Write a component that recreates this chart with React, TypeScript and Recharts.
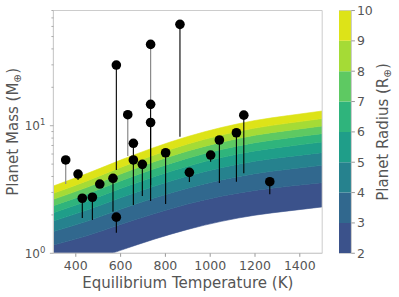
import React from 'react';
import {
  ComposedChart,
  Area,
  Scatter,
  ErrorBar,
  XAxis,
  YAxis,
  ReferenceArea,
  BarChart,
  Bar,
} from 'recharts';

const FONT = '"DejaVu Sans", sans-serif';
const TEXT = '#555555';
const SPINE = '#cccccc';
const TICK = '#999999';

// ---- Contour boundaries: planet mass (M_earth) at each radius level ----
const gridTemps = [300, 450, 600, 750, 900, 1050, 1200, 1350, 1500];
const radius2 = [0.71, 0.85, 1.055, 1.29, 1.54, 1.78, 1.99, 2.15, 2.31];
const radius3 = [1.16, 1.37, 1.68, 2.04, 2.43, 2.8, 3.11, 3.35, 3.58];
const radius4 = [1.48, 1.78, 2.21, 2.71, 3.24, 3.76, 4.21, 4.56, 4.89];
const radius5 = [1.79, 2.18, 2.72, 3.35, 4.03, 4.69, 5.27, 5.72, 6.15];
const radius6 = [2.08, 2.56, 3.22, 3.99, 4.82, 5.63, 6.35, 6.91, 7.45];
const radius7 = [2.36, 2.92, 3.69, 4.59, 5.57, 6.51, 7.36, 8.02, 8.67];
const radius8 = [2.65, 3.29, 4.18, 5.22, 6.34, 7.43, 8.42, 9.19, 9.95];
const radius9 = [2.95, 3.69, 4.71, 5.9, 7.19, 8.45, 9.58, 10.48, 11.37];
const radius10 = [3.37, 4.22, 5.38, 6.75, 8.23, 9.68, 10.99, 12.02, 13.04];

const radiusLevels = [2, 3, 4, 5, 6, 7, 8, 9, 10];
const bandColors = ['#3b528b', '#31688e', '#26828e', '#1f9e89', '#2fb47c', '#5ec962', '#a5db36', '#dde318'];

// ---- Planets ----
const planetTemps = [355, 410, 429, 474, 507, 566, 581, 581, 632, 657, 657, 697, 734, 734, 734, 801, 865, 907, 1002, 1041, 1117, 1150, 1266];
const planetMasses = [5.39, 4.18, 2.7, 2.75, 3.49, 3.87, 1.92, 29.9, 12.2, 7.28, 5.39, 4.98, 43.4, 14.7, 10.6, 6.14, 62.3, 4.31, 5.89, 7.73, 8.81, 12.1, 3.64];
const planetLowerMasses = [3.49, 3.75, 1.89, 1.82, 3.3, 2.12, 1.45, 4.5, 5.79, 4.92, 2.39, 2.81, 14.8, 3.43, 2.57, 2.43, 8.2, 3.62, 5.22, 3.56, 3.64, 4.24, 2.9];
const faintBar = [true, false, false, false, false, false, false, false, true, false, false, false, true, false, false, false, false, false, false, false, false, false, false];

const xTicks = [400, 600, 800, 1000, 1200, 1400];
const yTicks = [1, 2, 3, 4, 5, 6, 7, 8, 9, 10, 20, 30, 40, 50, 60, 70, 80];

const levelArrays = [radius2, radius3, radius4, radius5, radius6, radius7, radius8, radius9, radius10];

const contourData = gridTemps.map((t, i) => {
  const row: any = { t };
  for (let k = 0; k < levelArrays.length - 1; k++) {
    row['b' + k] = [levelArrays[k][i], levelArrays[k + 1][i]];
  }
  return row;
});

const planets = planetTemps.map((t, i) => ({
  t,
  m: planetMasses[i],
  err: [planetMasses[i] - planetLowerMasses[i], 0],
  faint: faintBar[i],
}));

const colorbarData = [
  (() => {
    const row: any = { name: 'cb', base: radiusLevels[0] };
    for (let k = 0; k < radiusLevels.length - 1; k++) row['s' + k] = radiusLevels[k + 1] - radiusLevels[k];
    return row;
  })(),
];

const Dot = (p: any) => <circle cx={p.cx} cy={p.cy} r={4.8} fill="#000" />;

const YTick = (p: any) => {
  const { x, y, payload } = p;
  const v = payload.value;
  const major = v === 1 || v === 10;
  return (
    <g>
      <line x1={x - (major ? 3.5 : 2)} x2={x} y1={y} y2={y} stroke={TICK} strokeWidth={0.8} />
      {major && (
        <text x={x - 8} y={y + 4.5} textAnchor="end" fontFamily={FONT} fill={TEXT}>
          <tspan fontSize={12}>10</tspan>
          <tspan fontSize={8.5} dy={-5}>{v === 1 ? '0' : '1'}</tspan>
        </text>
      )}
    </g>
  );
};

const YLabel = (p: any) => {
  const vb = p.viewBox || {};
  const x = vb.x + 18.5;
  const y = vb.y + vb.height / 2;
  return (
    <text x={x} y={y} transform={`rotate(-90 ${x} ${y})`} textAnchor="middle" fontFamily={FONT} fontSize={15} fill={TEXT}>
      Planet Mass (M<tspan fontSize={10.5} dy={3}>⊕</tspan>
      <tspan dy={-3}>)</tspan>
    </text>
  );
};

const CbLabel = (p: any) => {
  const vb = p.viewBox || {};
  const x = vb.x + 37;
  const y = vb.y + vb.height / 2;
  return (
    <text x={x} y={y} transform={`rotate(-90 ${x} ${y})`} textAnchor="middle" fontFamily={FONT} fontSize={15} fill={TEXT}>
      Planet Radius (R<tspan fontSize={10.5} dy={3}>⊕</tspan>
      <tspan dy={-3}>)</tspan>
    </text>
  );
};

export default function App() {
  return (
    <div style={{ position: 'absolute', left: 0, top: 0, width: 399, height: 297, background: '#fff' }}>
      <div style={{ position: 'absolute', left: 0, top: 0 }}>
        <ComposedChart width={399} height={297} data={contourData} margin={{ top: 10.5, right: 76.8, left: 0, bottom: 0 }}>
          <XAxis
            dataKey="t"
            type="number"
            domain={[300, 1500]}
            ticks={xTicks}
            allowDataOverflow
            height={43.7}
            stroke={SPINE}
            tickLine={{ stroke: TICK }}
            tickSize={3.5}
            tickMargin={4}
            tick={{ fill: TEXT, fontSize: 12.5, fontFamily: FONT }}
            label={{ value: 'Equilibrium Temperature (K)', position: 'insideBottom', offset: 9.5, fill: TEXT, fontSize: 15, fontFamily: FONT }}
          />
          <YAxis
            type="number"
            scale="log"
            domain={[1, 80]}
            ticks={yTicks}
            interval={0}
            allowDataOverflow
            width={53.4}
            stroke={SPINE}
            tickLine={false}
            tickSize={0}
            tickMargin={0}
            tick={<YTick />}
            label={<YLabel />}
          />
          {bandColors.map((c, k) => (
            <Area
              key={'band' + k}
              dataKey={'b' + k}
              type="monotone"
              fill={c}
              fillOpacity={1}
              stroke={c}
              strokeWidth={0.6}
              dot={false}
              activeDot={false}
              isAnimationActive={false}
            />
          ))}
          <Scatter data={planets.filter((p) => p.faint)} dataKey="m" shape={<Dot />} isAnimationActive={false}>
            <ErrorBar dataKey="err" direction="y" width={0} stroke="#8a8a8a" strokeWidth={1.2} isAnimationActive={false} />
          </Scatter>
          <Scatter data={planets.filter((p) => !p.faint)} dataKey="m" shape={<Dot />} isAnimationActive={false}>
            <ErrorBar dataKey="err" direction="y" width={0} stroke="#000" strokeWidth={1.1} isAnimationActive={false} />
          </Scatter>
          <ReferenceArea x1={300} x2={1500} y1={1} y2={80} fill="none" stroke={SPINE} strokeWidth={1} ifOverflow="visible" />
        </ComposedChart>
      </div>
      <div style={{ position: 'absolute', left: 339.3, top: 0 }}>
        <BarChart width={59.7} height={297} data={colorbarData} margin={{ top: 10.5, right: 0, bottom: 43.7, left: 0 }} barCategoryGap={0} barGap={0}>
          <XAxis dataKey="name" hide />
          <YAxis
            orientation="right"
            type="number"
            domain={[2, 10]}
            ticks={radiusLevels}
            interval={0}
            allowDataOverflow
            width={47.3}
            stroke={SPINE}
            tickLine={{ stroke: TICK }}
            tickSize={3.5}
            tickMargin={2}
            tick={{ fill: TEXT, fontSize: 12.5, fontFamily: FONT }}
            label={<CbLabel />}
          />
          <Bar dataKey="base" stackId="c" fill="none" isAnimationActive={false} />
          {bandColors.map((c, k) => (
            <Bar key={'s' + k} dataKey={'s' + k} stackId="c" fill={c} isAnimationActive={false} />
          ))}
          <ReferenceArea x1="cb" x2="cb" y1={2} y2={10} fill="none" stroke={SPINE} ifOverflow="visible" />
        </BarChart>
      </div>
    </div>
  );
}
